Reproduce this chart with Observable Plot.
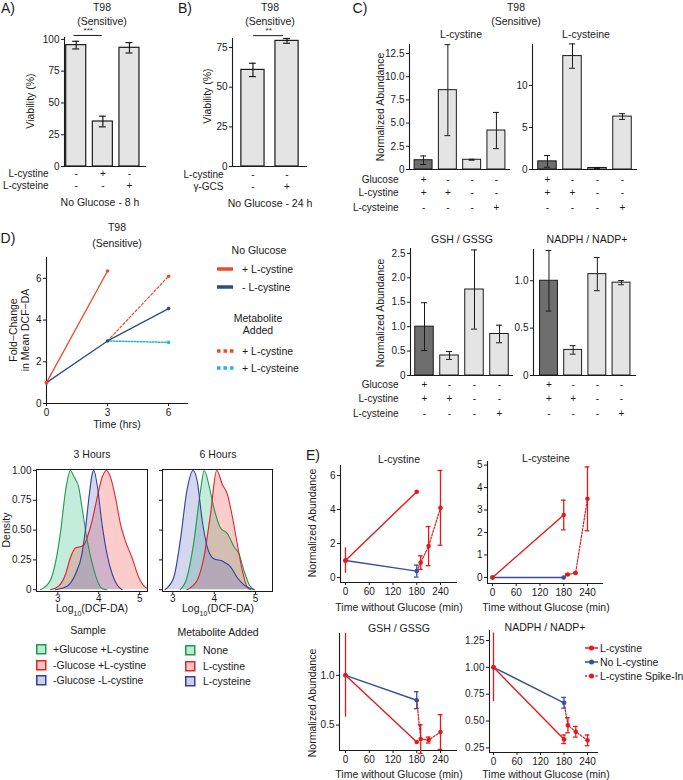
<!DOCTYPE html>
<html><head><meta charset="utf-8">
<script src="https://cdn.jsdelivr.net/npm/d3@7"></script>
<script src="https://cdn.jsdelivr.net/npm/@observablehq/plot@0.6"></script>
<style>
body{margin:0;background:#fff;}
#root{position:relative;width:683px;height:780px;overflow:hidden;font-family:'Liberation Sans',Arial,Helvetica,sans-serif;color:#1a1a1a;background:#fff;}
.t{position:absolute;white-space:nowrap;line-height:1.15;text-align:center;}
</style></head><body><div id="root"></div>
<script>
// ---------------- DATA ----------------
// Panel A
const aViability = [95.5, 35.4, 93.4];
const aViabilityErr = [3.0, 4.2, 4.1];
const aCystine = ["-", "+", "-"];
const aCysteine = ["-", "-", "+"];
const aTicks = [0, 25, 50, 75, 100];
// Panel B
const bViability = [60.9, 79.2];
const bViabilityErr = [4.2, 1.5];
const bCystine = ["-", "-"];
const bGCS = ["-", "+"];
const bTicks = [0, 25, 50, 75];
// Panel C
const cGlucose = ["+", "-", "-", "-"];
const cCystine = ["+", "+", "-", "-"];
const cCysteine = ["-", "-", "-", "+"];
const cCystineAbund = [1.0, 8.55, 1.05, 4.2];
const cCystineErr = [0.46, 4.9, 0.05, 1.95];
const cCysteineAbund = [0.97, 13.5, 0.18, 6.3];
const cCysteineErr = [0.7, 1.45, 0.06, 0.34];
const cGshRatio = [1.0, 0.41, 1.76, 0.85];
const cGshErr = [0.49, 0.08, 0.81, 0.18];
const cNadphRatio = [1.0, 0.27, 1.07, 0.98];
const cNadphErr = [0.32, 0.045, 0.175, 0.022];
// Panel D (line)
const dTimeCys = [0, 3];
const dFoldCys = [1.0, 6.35];
const dTimeNoCys = [0, 3, 6];
const dFoldNoCys = [1.0, 3.0, 4.55];
const dTimeAdded = [3, 6];
const dFoldAddCystine = [3.0, 6.1];
const dFoldAddCysteine = [3.0, 2.93];
// Panel D (density) [log10 DCF-DA, scaled density]
const den3Green = [[2.58,0],[2.82,0.08],[2.94,0.22],[3.07,0.49],[3.19,0.83],[3.31,1.0],[3.39,0.95],[3.51,0.86],[3.59,0.69],[3.72,0.41],[3.84,0.22],[3.96,0.08],[4.08,0.01],[4.2,0]];
const den3Red = [[2.82,0],[3.02,0.03],[3.19,0.13],[3.31,0.27],[3.43,0.35],[3.55,0.36],[3.65,0.38],[3.72,0.44],[3.84,0.58],[3.96,0.77],[4.08,0.94],[4.19,1.0],[4.28,0.95],[4.41,0.77],[4.53,0.55],[4.65,0.41],[4.81,0.27],[4.98,0.1],[5.14,0.02],[5.19,0.01]];
const den3Blue = [[2.94,0],[3.23,0.03],[3.43,0.13],[3.59,0.3],[3.67,0.49],[3.76,0.77],[3.84,0.97],[3.88,1.0],[3.96,0.88],[4.08,0.55],[4.2,0.3],[4.33,0.13],[4.45,0.04],[4.57,0]];
const den6Green = [[3.18,0],[3.34,0.1],[3.5,0.38],[3.67,0.83],[3.76,1.0],[3.87,0.88],[3.99,0.69],[4.15,0.52],[4.32,0.47],[4.48,0.36],[4.6,0.3],[4.72,0.16],[4.85,0.04],[4.97,0]];
const den6Red = [[3.34,0],[3.59,0.08],[3.75,0.27],[3.91,0.63],[4.06,1.0],[4.2,0.88],[4.32,0.8],[4.44,0.61],[4.56,0.38],[4.68,0.16],[4.8,0.02],[4.89,0]];
const den6Blue = [[2.81,0],[3.02,0.1],[3.18,0.41],[3.34,0.83],[3.49,1.0],[3.59,0.91],[3.71,0.58],[3.83,0.36],[3.99,0.26],[4.2,0.24],[4.4,0.19],[4.56,0.1],[4.72,0.04],[4.97,0]];
// Panel E
const eTime = [0, 180];
const eSpikeTime = [180, 190, 210, 240];
const eTimeTicks = [0, 60, 120, 180, 240];
const eCystineRed = [1.0, 5.05], eCystineRedErr = [0.75, 0];
const eCystineBlue = [1.0, 0.38], eCystineBlueErr = [0, 0.35];
const eCystineSpike = [0.38, 0.88, 1.85, 4.1], eCystineSpikeErr = [0, 0.4, 1.15, 2.2];
const eCysteineRed = [0.0, 2.78], eCysteineRedErr = [0, 0.66];
const eCysteineBlue = [0.0, 0.0], eCysteineBlueErr = [0, 0];
const eCysteineSpike = [0.0, 0.13, 0.2, 3.5], eCysteineSpikeErr = [0, 0.03, 0.03, 1.42];
const eGshRed = [1.0, 0.33], eGshRedErr = [0.42, 0];
const eGshBlue = [1.0, 0.75], eGshBlueErr = [0, 0.085];
const eGshSpike = [0.75, 0.36, 0.35, 0.43], eGshSpikeErr = [0, 0.145, 0.03, 0.175];
const eNadphRed = [1.0, 0.33], eNadphRedErr = [0.32, 0.04];
const eNadphBlue = [1.0, 0.67], eNadphBlueErr = [0, 0.05];
const eNadphSpike = [0.67, 0.46, 0.40, 0.32], eNadphSpikeErr = [0, 0.07, 0.05, 0.05];

// ---------------- HELPERS ----------------
const ROOT = document.getElementById("root");
const FONT = "'Liberation Sans', Arial, Helvetica, sans-serif";
const INK = "#1a1a1a";
const LIGHT = "#e4e4e4", DARK = "#6e6e6e";
const RED_D = "#ef4a2b", BLUE_D = "#2d4f7f", CYAN_D = "#20b9d0";
const RED_E = "#e31a1c", BLUE_E = "#3a4e9c";
const G_S = "#1f9a4e", R_S = "#e0242a", B_S = "#34409a";
const G_F = "#3cc083", R_F = "#f25555", B_F = "#7079c4";

function T(s, x, y, o = {}) {
  const el = document.createElement("div");
  el.className = "t";
  el.innerHTML = s;
  el.style.left = x + "px"; el.style.top = y + "px";
  el.style.fontSize = (o.size || 10.5) + "px";
  if (o.weight) el.style.fontWeight = o.weight;
  const ax = o.anchor === "start" ? "0" : o.anchor === "end" ? "-100%" : "-50%";
  el.style.transform = `translate(${ax},-50%)` + (o.rot ? ` rotate(${o.rot}deg)` : "");
  ROOT.appendChild(el);
}
function S(html, x, y, w, h) {
  const el = document.createElement("div");
  el.style.position = "absolute"; el.style.left = x + "px"; el.style.top = y + "px";
  el.innerHTML = `<svg width="${w}" height="${h}" style="display:block;overflow:visible">${html}</svg>`;
  ROOT.appendChild(el);
}
function mkPlot({fx0, fx1, fy0, fy1, x, y, marks}) {
  const ML = 60, MR = 20, MT = 30, MB = 60;
  const svg = Plot.plot({
    width: fx1 - fx0 + ML + MR, height: fy1 - fy0 + MT + MB,
    marginLeft: ML, marginRight: MR, marginTop: MT, marginBottom: MB,
    x, y,
    style: {background: "transparent", overflow: "visible", fontFamily: FONT, fontSize: "10px", color: INK},
    marks
  });
  svg.style.position = "absolute";
  svg.style.left = (fx0 - ML) + "px"; svg.style.top = (fy0 - MT) + "px";
  svg.style.maxWidth = "none";
  ROOT.appendChild(svg);
}
const f0 = d => String(d);
const f1 = d => d === 0 ? "0" : d.toFixed(1);
const f2 = d => d === 0 ? "0" : d.toFixed(2);

function barPanel(c) {
  const data = c.vals.map((v, k) => ({i: k + 1, v, e: c.errs[k], f: c.fills[k]}));
  const sw = c.sw || 1;
  const marks = [
    Plot.rect(data, {x1: d => d.i - c.hw, x2: d => d.i + c.hw, y1: 0, y2: "v", fill: "f", stroke: INK, strokeWidth: sw}),
    Plot.ruleX(data, {x: "i", y1: d => d.v - d.e, y2: d => d.v + d.e, stroke: INK, strokeWidth: sw}),
    Plot.ruleY(data, {y: d => d.v + d.e, x1: d => d.i - c.cw, x2: d => d.i + c.cw, stroke: INK, strokeWidth: sw}),
    Plot.ruleY(data, {y: d => d.v - d.e, x1: d => d.i - c.cw, x2: d => d.i + c.cw, stroke: INK, strokeWidth: sw}),
    Plot.ruleX([c.xdom[0]], {stroke: INK, strokeWidth: 1.1}),
    Plot.ruleY([c.ydom[0]], {stroke: INK, strokeWidth: 1.1})
  ];
  c.rows.forEach((row, r) => {
    marks.push(Plot.text(row.map((s, k) => ({i: k + 1, s})), {x: "i", text: "s", frameAnchor: "bottom", dy: c.rowDy[r], fontSize: 10}));
    if (c.rowNames) marks.push(Plot.text([c.rowNames[r]], {text: d => d, frameAnchor: "bottom-left", dx: c.rowNameX - c.fx0, dy: c.rowDy[r], textAnchor: "end", fontSize: 10}));
  });
  if (c.sig) {
    marks.push(Plot.ruleY([c.sig], {y: "y", x1: "x1", x2: "x2", stroke: INK, strokeWidth: 1}));
    marks.push(Plot.text([c.sig], {x: d => (d.x1 + d.x2) / 2, y: "ly", text: "label", fontSize: 8}));
  }
  mkPlot({fx0: c.fx0, fx1: c.fx1, fy0: c.fy0, fy1: c.fy1,
    x: {domain: c.xdom, axis: null},
    y: {domain: c.ydom, ticks: c.yticks, tickFormat: c.yfmt, tickSize: 3, tickPadding: 2, label: null},
    marks});
}

function ePanel(c) {
  const rows = (ts, vs, es) => ts.map((t, k) => ({t, v: vs[k], e: es[k]}));
  const red = rows(eTime, c.red, c.redErr), blue = rows(eTime, c.blue, c.blueErr), spike = rows(eSpikeTime, c.spike, c.spikeErr);
  const cap = 6;
  const err = (d, col) => [
    Plot.ruleX(d.filter(r => r.e > 0), {x: "t", y1: r => r.v - r.e, y2: r => r.v + r.e, stroke: col, strokeWidth: 1.3}),
    Plot.ruleY(d.filter(r => r.e > 0 && r.t > 0), {y: r => r.v + r.e, x1: r => r.t - cap, x2: r => r.t + cap, stroke: col, strokeWidth: 1.3}),
    Plot.ruleY(d.filter(r => r.e > 0 && r.t > 0), {y: r => r.v - r.e, x1: r => r.t - cap, x2: r => r.t + cap, stroke: col, strokeWidth: 1.3})
  ];
  mkPlot({fx0: c.fx0, fx1: c.fx1, fy0: c.fy0, fy1: c.fy1,
    x: {domain: c.xdom, ticks: eTimeTicks, tickFormat: f0, tickSize: 3, tickPadding: 2, label: null},
    y: {domain: c.ydom, ticks: c.yticks, tickFormat: c.yfmt, tickSize: 3, tickPadding: 2, label: null},
    marks: [
      Plot.ruleX([c.xdom[0]], {stroke: INK, strokeWidth: 1.1}),
      Plot.ruleY([c.ydom[0]], {stroke: INK, strokeWidth: 1.1}),
      Plot.line(spike, {x: "t", y: "v", stroke: RED_E, strokeWidth: 1.2, strokeDasharray: "2,1.5"}),
      Plot.line(blue, {x: "t", y: "v", stroke: BLUE_E, strokeWidth: 1.4}),
      ...err(blue, BLUE_E),
      Plot.dot(blue, {x: "t", y: "v", fill: BLUE_E, r: 2.3}),
      Plot.line(red, {x: "t", y: "v", stroke: RED_E, strokeWidth: 1.4}),
      ...err(red, RED_E),
      ...err(spike, RED_E),
      Plot.dot(red, {x: "t", y: "v", fill: RED_E, r: 2.3}),
      Plot.dot(spike.filter(r => r.t > 180), {x: "t", y: "v", fill: RED_E, r: 2.3})
    ]});
}

function densPanel(c) {
  const curves = [[c.g, G_F, G_S], [c.r, R_F, R_S], [c.b, B_F, B_S]];
  mkPlot({fx0: c.fx0, fx1: c.fx1, fy0: 469, fy1: 591,
    x: {domain: c.xdom, ticks: [3, 4, 5], tickFormat: f0, tickSize: 3, tickPadding: 0, label: null},
    y: {domain: [-0.015, 1.008], ticks: [0, 0.25, 0.5, 0.75, 1], tickFormat: c.showY ? f2 : () => "", tickSize: 3, tickPadding: 2, label: null},
    marks: [
      ...curves.map(([pts, fill]) => Plot.areaY(pts, {x: d => d[0], y: d => d[1], fill, fillOpacity: 0.3, curve: "monotone-x"})),
      ...curves.map(([pts, , stroke]) => Plot.lineY(pts, {x: d => d[0], y: d => d[1], stroke, strokeWidth: 1.1, curve: "monotone-x"})),
      Plot.frame({stroke: INK, strokeWidth: 1})
    ]});
}

// ---------------- PANEL A ----------------
T("A)", 8, 8, {size: 14});
T("T98", 102, 7); T("(Sensitive)", 102, 21);
T("Viability (%)", 30, 101, {rot: -90});
barPanel({fx0: 64, fx1: 146, fy0: 37, fy1: 166, xdom: [0.56, 3.64], ydom: [0, 101.5], yticks: aTicks, yfmt: f0,
  vals: aViability, errs: aViabilityErr, fills: [LIGHT, LIGHT, LIGHT], hw: 0.376, cw: 0.13, sw: 1.2,
  rows: [aCystine, aCysteine], rowNames: ["L-cystine", "L-cysteine"], rowNameX: 48, rowDy: [10, 22],
  sig: {x1: 0.92, x2: 1.98, y: 103.1, ly: 107, label: "***"}});
T("No Glucose - 8 h", 100, 202);

// ---------------- PANEL B ----------------
T("B)", 185, 8, {size: 14});
T("T98", 270, 7); T("(Sensitive)", 270, 21);
T("Viability (%)", 207, 96, {rot: -90});
barPanel({fx0: 232, fx1: 307, fy0: 38, fy1: 166, xdom: [0.4, 2.6], ydom: [0, 80.7], yticks: bTicks, yfmt: f0,
  vals: bViability, errs: bViabilityErr, fills: [LIGHT, LIGHT], hw: 0.34, cw: 0.1, sw: 1.2,
  rows: [bCystine, bGCS], rowNames: ["L-cystine", "γ-GCS"], rowNameX: 223, rowDy: [11, 23],
  sig: {x1: 1.02, x2: 1.9, y: 82.5, ly: 86, label: "**"}});
T("No Glucose - 24 h", 270, 203);

// ---------------- PANEL C ----------------
T("C)", 360, 8, {size: 14});
T("T98", 516, 7); T("(Sensitive)", 516, 21);
T("L-cystine", 461, 34); T("L-cysteine", 586, 34);
T("GSH / GSSG", 462, 239); T("NADPH / NADP+", 587, 239);
T("Normalized Abundance", 380, 107, {rot: -90});
T("Normalized Abundance", 380, 313, {rot: -90});
const cFills = [DARK, LIGHT, LIGHT, LIGHT];
const cRows = [cGlucose, cCystine, cCysteine];
const cNames = ["Glucose", "L-cystine", "L-cysteine"];
barPanel({fx0: 409, fx1: 510, fy0: 44, fy1: 169, xdom: [0.42, 4.58], ydom: [0, 13.47], yticks: [0, 2.5, 5, 7.5, 10, 12.5], yfmt: f1,
  vals: cCystineAbund, errs: cCystineErr, fills: cFills, hw: 0.37, cw: 0.12,
  rows: cRows, rowNames: cNames, rowNameX: 398, rowDy: [13, 26, 41]});
barPanel({fx0: 532, fx1: 637, fy0: 44, fy1: 169, xdom: [0.4, 4.6], ydom: [0, 14.88], yticks: [0, 5, 10], yfmt: f0,
  vals: cCysteineAbund, errs: cCysteineErr, fills: cFills, hw: 0.37, cw: 0.12,
  rows: cRows, rowDy: [13, 26, 41]});
barPanel({fx0: 410, fx1: 513, fy0: 248, fy1: 375, xdom: [0.44, 4.56], ydom: [0, 2.6], yticks: [0, 0.5, 1, 1.5, 2, 2.5], yfmt: f1,
  vals: cGshRatio, errs: cGshErr, fills: cFills, hw: 0.37, cw: 0.12,
  rows: cRows, rowNames: cNames, rowNameX: 398, rowDy: [12, 26, 41]});
barPanel({fx0: 533, fx1: 636, fy0: 249, fy1: 375, xdom: [0.36, 4.62], ydom: [0, 1.33], yticks: [0, 0.5, 1], yfmt: f1,
  vals: cNadphRatio, errs: cNadphErr, fills: cFills, hw: 0.37, cw: 0.12,
  rows: cRows, rowDy: [12, 26, 41]});

// ---------------- PANEL D (line) ----------------
T("D)", 8, 238, {size: 14});
T("T98", 117, 227); T("(Sensitive)", 117, 243);
T("Fold−Change<br>in Mean DCF−DA", 19, 330, {rot: -90});
T("Time (hrs)", 117, 424);
const pts = (ts, vs) => ts.map((t, k) => ({t, v: vs[k]}));
mkPlot({fx0: 46, fx1: 188, fy0: 257, fy1: 403,
  x: {domain: [0, 6.98], ticks: [0, 3, 6], tickFormat: f0, tickSize: 3, tickPadding: 2, label: null},
  y: {domain: [0, 7.0], ticks: [0, 2, 4, 6], tickFormat: f0, tickSize: 3, tickPadding: 2, label: null},
  marks: [
    Plot.ruleX([0], {stroke: INK, strokeWidth: 1.1}),
    Plot.ruleY([0], {stroke: INK, strokeWidth: 1.1}),
    Plot.line(pts(dTimeAdded, dFoldAddCysteine), {x: "t", y: "v", stroke: CYAN_D, strokeWidth: 1.5, strokeDasharray: "1.5,1.5"}),
    Plot.line(pts(dTimeAdded, dFoldAddCystine), {x: "t", y: "v", stroke: RED_D, strokeWidth: 1.2, strokeDasharray: "2.5,2"}),
    Plot.line(pts(dTimeNoCys, dFoldNoCys), {x: "t", y: "v", stroke: BLUE_D, strokeWidth: 1.3}),
    Plot.line(pts(dTimeCys, dFoldCys), {x: "t", y: "v", stroke: RED_D, strokeWidth: 1.3}),
    Plot.dot(pts(dTimeAdded, dFoldAddCysteine).slice(1), {x: "t", y: "v", fill: CYAN_D, r: 1.8}),
    Plot.dot(pts(dTimeAdded, dFoldAddCystine).slice(1), {x: "t", y: "v", fill: RED_D, r: 1.8}),
    Plot.dot(pts(dTimeNoCys, dFoldNoCys), {x: "t", y: "v", fill: BLUE_D, r: 1.8}),
    Plot.dot(pts(dTimeCys, dFoldCys), {x: "t", y: "v", fill: RED_D, r: 1.8})
  ]});
// legend
T("No Glucose", 259, 250);
S(`<line x1="0" y1="4" x2="16" y2="4" stroke="${RED_D}" stroke-width="3.5"/>`, 217, 265, 16, 8);
T("+ L-cystine", 242, 269, {anchor: "start"});
S(`<line x1="0" y1="4" x2="16" y2="4" stroke="${BLUE_D}" stroke-width="3.5"/>`, 217, 283, 16, 8);
T("- L-cystine", 242, 287, {anchor: "start"});
T("Metabolite<br>Added", 258, 324);
S(`<line x1="0" y1="4" x2="17" y2="4" stroke="${RED_D}" stroke-width="3.5" stroke-dasharray="3.5,3"/>`, 217, 347, 17, 8);
T("+ L-cystine", 242, 351, {anchor: "start"});
S(`<line x1="0" y1="4" x2="17" y2="4" stroke="${CYAN_D}" stroke-width="3.5" stroke-dasharray="3.5,3"/>`, 217, 364, 17, 8);
T("+ L-cysteine", 242, 368, {anchor: "start"});

// ---------------- PANEL D (density) ----------------
T("3 Hours", 92, 454); T("6 Hours", 218, 454);
T("Density", 6, 530, {rot: -90});
T("Log<sub style='font-size:7px'>10</sub>(DCF-DA)", 92, 610);
T("Log<sub style='font-size:7px'>10</sub>(DCF-DA)", 218, 610);
densPanel({fx0: 36, fx1: 147, xdom: [2.48, 5.19], g: den3Green, r: den3Red, b: den3Blue, showY: true});
densPanel({fx0: 162, fx1: 272, xdom: [2.75, 5.41], g: den6Green, r: den6Red, b: den6Blue, showY: false});
T("Sample", 88, 630);
T("Metabolite Added", 218, 632);
const box = (s, f) => `<rect x="0.75" y="0.75" width="9" height="9" fill="${f}" fill-opacity="0.35" stroke="${s}" stroke-width="1.5"/>`;
[[G_S, G_F, "+Glucose +L-cystine", "None"], [R_S, R_F, "-Glucose +L-cystine", "L-cystine"], [B_S, B_F, "-Glucose -L-cystine", "L-cysteine"]]
  .forEach(([s, f, a, b], k) => {
    const y = 649 + k * 15.5;
    S(box(s, f), 36, y - 5, 11, 11); T(a, 53, y, {anchor: "start"});
    S(box(s, f), 185, y - 4, 11, 11); T(b, 203, y + 1, {anchor: "start"});
  });

// ---------------- PANEL E ----------------
T("E)", 313, 455, {size: 14});
T("L-cystine", 399, 459); T("L-cysteine", 546, 458);
T("GSH / GSSG", 399, 628); T("NADPH / NADP+", 545, 627);
T("Normalized Abundance", 312, 523, {rot: -90});
T("Normalized Abundance", 312, 703, {rot: -90});
T("Time without Glucose (min)", 399, 607); T("Time without Glucose (min)", 546, 607);
T("Time without Glucose (min)", 399, 774); T("Time without Glucose (min)", 546, 774);
ePanel({fx0: 340, fx1: 457, fy0: 465, fy1: 582, xdom: [-12.6, 283], ydom: [-0.29, 6.59], yticks: [0, 2, 4, 6], yfmt: f0,
  red: eCystineRed, redErr: eCystineRedErr, blue: eCystineBlue, blueErr: eCystineBlueErr, spike: eCystineSpike, spikeErr: eCystineSpikeErr});
ePanel({fx0: 487, fx1: 603, fy0: 461, fy1: 583, xdom: [-12.6, 280.5], ydom: [-0.27, 5.16], yticks: [0, 1, 2, 3, 4, 5], yfmt: f0,
  red: eCysteineRed, redErr: eCysteineRedErr, blue: eCysteineBlue, blueErr: eCysteineBlueErr, spike: eCysteineSpike, spikeErr: eCysteineSpikeErr});
ePanel({fx0: 339, fx1: 457, fy0: 633, fy1: 750, xdom: [-15.2, 283], ydom: [0.245, 1.42], yticks: [0.5, 1.0], yfmt: f1,
  red: eGshRed, redErr: eGshRedErr, blue: eGshBlue, blueErr: eGshBlueErr, spike: eGshSpike, spikeErr: eGshSpikeErr});
ePanel({fx0: 489, fx1: 598, fy0: 630, fy1: 752, xdom: [-10.2, 268], ydom: [0.207, 1.343], yticks: [0.25, 0.5, 0.75, 1.0, 1.25], yfmt: f2,
  red: eNadphRed, redErr: eNadphRedErr, blue: eNadphBlue, blueErr: eNadphBlueErr, spike: eNadphSpike, spikeErr: eNadphSpikeErr});
// legend
[[RED_E, "", "L-cystine"], [BLUE_E, "", "No L-cystine"], [RED_E, "2,1.5", "L-cystine Spike-In"]].forEach(([col, dash, lab], k) => {
  const y = 648 + k * 14;
  S(`<line x1="0" y1="4" x2="13" y2="4" stroke="${col}" stroke-width="1.5" ${dash ? `stroke-dasharray="${dash}"` : ""}/><circle cx="6.5" cy="4" r="2.5" fill="${col}"/>`, 585, y - 4, 13, 8);
  T(lab, 600, y, {anchor: "start"});
});
</script></body></html>
